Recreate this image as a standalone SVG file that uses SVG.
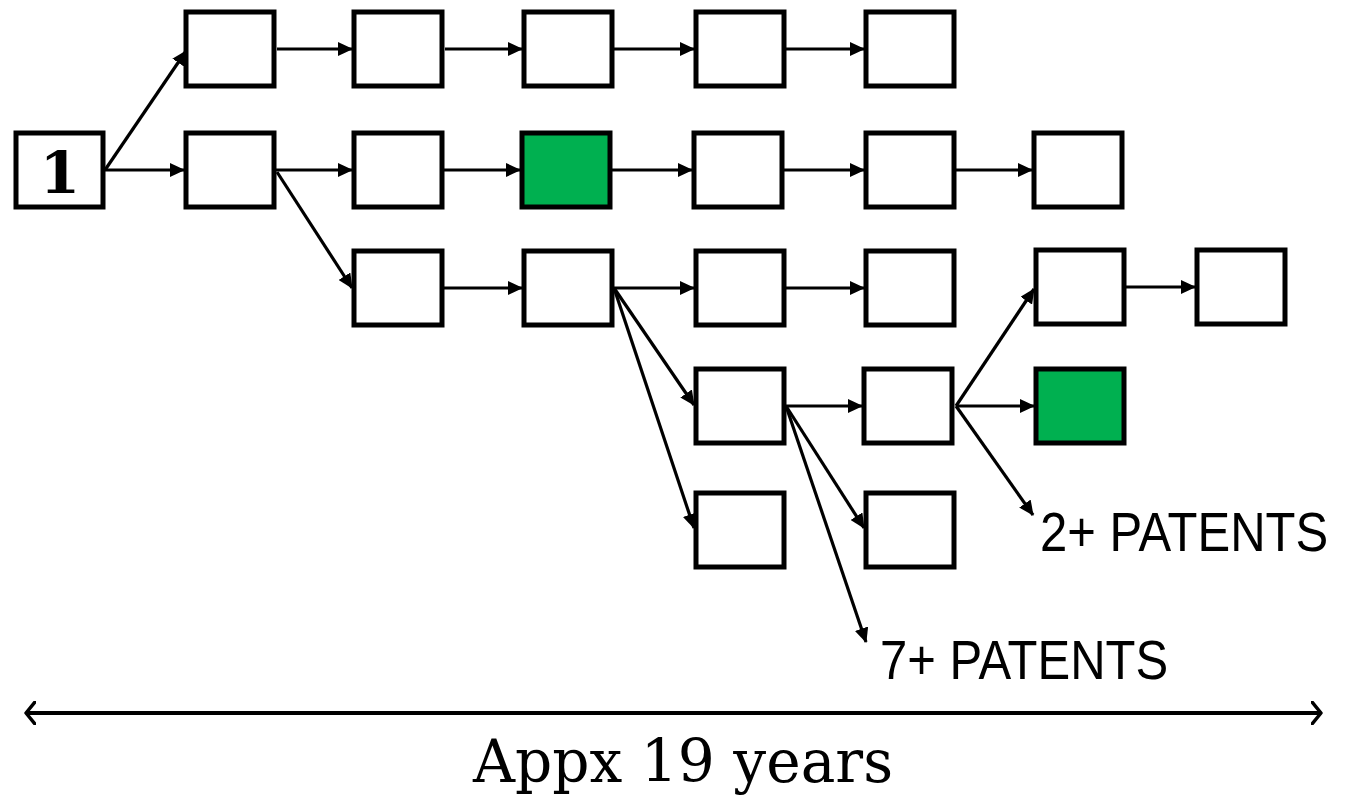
<svg xmlns="http://www.w3.org/2000/svg" width="1345" height="796" viewBox="0 0 1345 796">
<defs>
<marker id="ah" viewBox="0 0 15 14" refX="14" refY="7" markerWidth="15" markerHeight="14" markerUnits="userSpaceOnUse" orient="auto"><path d="M0,0 L15,7 L0,14 z" fill="#000"/></marker>
<marker id="oh" viewBox="0 0 12 24" refX="10" refY="12" markerWidth="12" markerHeight="24" markerUnits="userSpaceOnUse" orient="auto-start-reverse"><path d="M1,1 L10,12 L1,23" fill="none" stroke="#000" stroke-width="3.5" stroke-linecap="round" stroke-linejoin="round"/></marker>
<style>
.b{fill:#fff;stroke:#000;stroke-width:5;}
.g{fill:#00B050;stroke:#000;stroke-width:5;}
.c line{stroke:#000;stroke-width:3.2;marker-end:url(#ah);}
.lab{font-family:"Liberation Sans",Arial,sans-serif;font-size:49px;fill:#000;}
.ser{font-family:"DejaVu Serif",serif;fill:#000;}
</style>
</defs>
<rect width="1345" height="796" fill="#fff"/>
<g id="nodes">
<g id="n1"><rect class="b" x="16" y="133" width="87" height="74"/><text class="ser" x="60" y="193" font-size="58" font-weight="bold" text-anchor="middle">1</text></g>
<g id="r1a"><rect class="b" x="186" y="12" width="88" height="74"/></g>
<g id="r1b"><rect class="b" x="354" y="12" width="88" height="74"/></g>
<g id="r1c"><rect class="b" x="524" y="12" width="88" height="74"/></g>
<g id="r1d"><rect class="b" x="696" y="12" width="88" height="74"/></g>
<g id="r1e"><rect class="b" x="866" y="12" width="88" height="74"/></g>
<g id="r2a"><rect class="b" x="186" y="133" width="88" height="74"/></g>
<g id="r2b"><rect class="b" x="354" y="133" width="88" height="74"/></g>
<g id="r2c"><rect class="g" x="522" y="133" width="88" height="74"/></g>
<g id="r2d"><rect class="b" x="694" y="133" width="88" height="74"/></g>
<g id="r2e"><rect class="b" x="866" y="133" width="88" height="74"/></g>
<g id="r2f"><rect class="b" x="1034" y="133" width="88" height="74"/></g>
<g id="r3a"><rect class="b" x="354" y="251" width="88" height="74"/></g>
<g id="r3b"><rect class="b" x="524" y="251" width="88" height="74"/></g>
<g id="r3c"><rect class="b" x="696" y="251" width="88" height="74"/></g>
<g id="r3d"><rect class="b" x="866" y="251" width="88" height="74"/></g>
<g id="r3e"><rect class="b" x="1036" y="250" width="88" height="74"/></g>
<g id="r3f"><rect class="b" x="1197" y="250" width="88" height="74"/></g>
<g id="r4a"><rect class="b" x="696" y="369" width="88" height="74"/></g>
<g id="r4b"><rect class="b" x="864" y="369" width="88" height="74"/></g>
<g id="r4c"><rect class="g" x="1036" y="369" width="88" height="74"/></g>
<g id="r5a"><rect class="b" x="696" y="493" width="88" height="74"/></g>
<g id="r5b"><rect class="b" x="866" y="493" width="88" height="74"/></g>
</g>
<g id="connectors" class="c">
<line x1="105" y1="170" x2="186" y2="51"/>
<line x1="105" y1="170" x2="184" y2="170"/>
<line x1="277" y1="49" x2="352" y2="49"/>
<line x1="445" y1="49" x2="522" y2="49"/>
<line x1="613" y1="49" x2="694" y2="49"/>
<line x1="785" y1="49" x2="864" y2="49"/>
<line x1="276" y1="170" x2="352" y2="170"/>
<line x1="444" y1="170" x2="520" y2="170"/>
<line x1="612" y1="170" x2="692" y2="170"/>
<line x1="784" y1="170" x2="864" y2="170"/>
<line x1="956" y1="170" x2="1032" y2="170"/>
<line x1="277" y1="172" x2="352" y2="288"/>
<line x1="444" y1="288" x2="522" y2="288"/>
<line x1="614" y1="288" x2="694" y2="288"/>
<line x1="786" y1="288" x2="864" y2="288"/>
<line x1="1126" y1="287" x2="1195" y2="287"/>
<line x1="614" y1="288" x2="694" y2="405"/>
<line x1="614" y1="288" x2="694" y2="528"/>
<line x1="786" y1="406" x2="862" y2="406"/>
<line x1="786" y1="406" x2="864" y2="528"/>
<line x1="786" y1="406" x2="866" y2="642"/>
<line x1="956" y1="406" x2="1034" y2="289"/>
<line x1="956" y1="406" x2="1034" y2="406"/>
<line x1="956" y1="406" x2="1033" y2="515"/>
</g>
<g id="timeline">
<line x1="26" y1="713" x2="1321" y2="713" stroke="#000" stroke-width="4" marker-start="url(#oh)" marker-end="url(#oh)"/>
</g>
<text class="lab" transform="translate(1040,551) scale(1,1.14)" x="0" y="0">2+ PATENTS</text>
<text class="lab" transform="translate(880,679) scale(1,1.14)" x="0" y="0">7+ PATENTS</text>
<text class="ser" x="473" y="782" font-size="60" textLength="420" lengthAdjust="spacingAndGlyphs">Appx 19 years</text>
</svg>
